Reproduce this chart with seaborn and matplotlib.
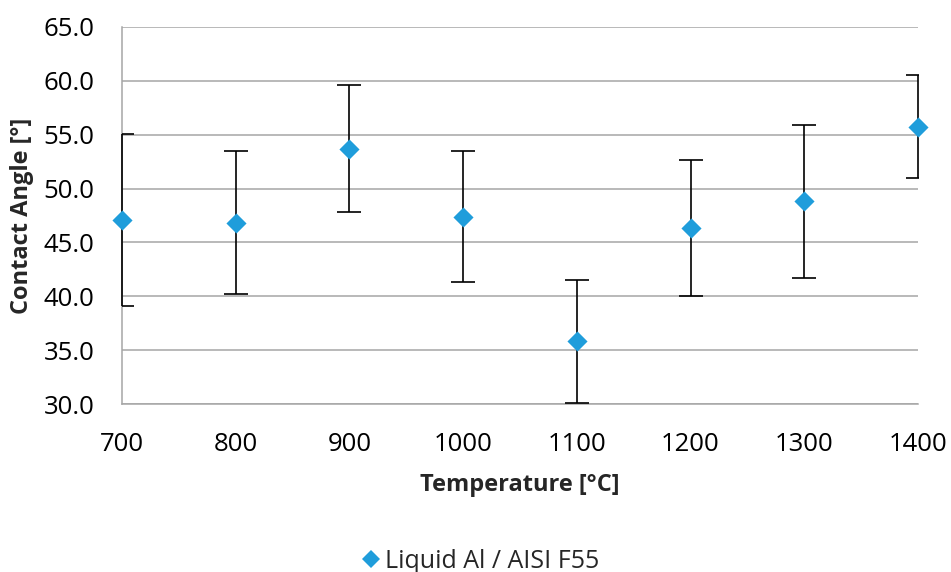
import numpy as np
import pandas as pd
import matplotlib
matplotlib.use("Agg")
import matplotlib.pyplot as plt
import seaborn as sns
from matplotlib.lines import Line2D

temperature = [700, 800, 900, 1000, 1100, 1200, 1300, 1400]
angle = [47.1, 46.8, 53.7, 47.4, 35.85, 46.3, 48.8, 55.7]
err_upper = [55.1, 53.5, 59.6, 53.5, 41.5, 52.65, 55.9, 60.5]
err_lower = [39.1, 40.2, 47.8, 41.3, 30.1, 40.0, 41.7, 51.0]
series_name = "Liquid Al / AISI F55"

df = pd.DataFrame({"Temperature": temperature, "Angle": angle,
                   "Series": [series_name] * len(temperature)})

sns.set_theme(style="white")
plt.rcParams["font.family"] = ["Open Sans", "DejaVu Sans"]

blue = "#1F9DDB"
grid_c = "#A6A6A6"

fig = plt.figure(figsize=(9.51, 5.72), dpi=100)
ax = fig.add_axes([122 / 951, 1 - 404 / 572, (918 - 122) / 951, (404 - 27) / 572])

yerr = [np.array(angle) - np.array(err_lower), np.array(err_upper) - np.array(angle)]
# caps (clipped at the plot area like the original)
ax.errorbar(temperature, angle, yerr=yerr, fmt="none", ecolor="black",
            elinewidth=0, capsize=8.5, capthick=1.2, zorder=3)
# vertical error lines (not clipped)
ax.vlines(temperature, err_lower, err_upper, colors="black", linewidth=1.2,
          zorder=3.5, clip_on=False)

sns.scatterplot(data=df, x="Temperature", y="Angle", ax=ax, marker="D",
                s=105, color=blue, edgecolor=blue, linewidth=0, zorder=4,
                clip_on=False, legend=False)

ax.set_xlim(700, 1400)
ax.set_ylim(30, 65)
ax.set_xticks(temperature)
ax.set_yticks(np.arange(30, 65.01, 5))
ax.set_yticklabels([f"{v:.1f}" for v in np.arange(30, 65.01, 5)])
ax.grid(axis="y", color=grid_c, linewidth=1.1)
ax.set_axisbelow(True)
for s in ["top", "right"]:
    ax.spines[s].set_visible(False)
for s in ["left", "bottom"]:
    ax.spines[s].set_color(grid_c)
    ax.spines[s].set_linewidth(1.1)
    ax.spines[s].set_zorder(1)
ax.tick_params(axis="both", which="both", direction="out", colors=grid_c,
               labelcolor="black", labelsize=18.5)
ax.tick_params(axis="y", length=8, width=1.1, pad=12)
ax.tick_params(axis="x", length=6, width=1.1, pad=14)

ax.set_xlabel("Temperature [°C]", fontsize=17, fontweight="bold", labelpad=12)
ax.set_ylabel("Contact Angle [°]", fontsize=17, fontweight="bold", labelpad=7)

handle = Line2D([], [], marker="D", linestyle="none", color=blue,
                markersize=9, markeredgewidth=0)
fig.legend([handle], [series_name], loc="center", bbox_to_anchor=(479 / 951, 1 - 561 / 572),
           frameon=False, fontsize=18, handletextpad=0.05, handlelength=1.0)

fig.savefig("out.png", dpi=100)
